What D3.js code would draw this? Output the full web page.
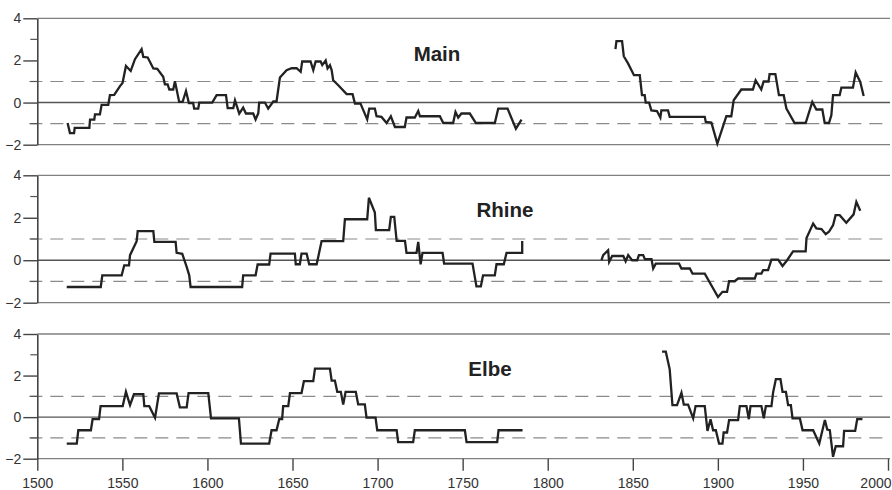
<!DOCTYPE html>
<html><head><meta charset="utf-8">
<script src="https://cdn.jsdelivr.net/npm/d3@7"></script>
<style>body{margin:0;background:#fff}svg{display:block}</style>
</head><body><svg id="c" width="892" height="490"></svg>
<script>
const rivers = ["Main", "Rhine", "Elbe"];
const xTicks = [1500, 1550, 1600, 1650, 1700, 1750, 1800, 1850, 1900, 1950, 2000];
const yTicks = [-2, 0, 2, 4];
const yMinorTicks = [-1, 1, 3];
const refLines = [-1, 1];

// null separates gaps in the record
const mainYears = [1517.8,1519.2,1521.6,1522,1530.6,1531,1533.5,1533.9,1536.8,1537.8,1541.7,1542.7,1545.2,1548.6,1550.1,1552.1,1554.9,1557.4,1561.3,1562.3,1564.9,1568.2,1570.5,1574,1575,1576.6,1577.6,1579.9,1580.9,1583.4,1585.4,1587.4,1589.1,1591.6,1592.2,1594.6,1595.2,1602.8,1605.4,1610.9,1611.9,1615.2,1616.2,1618.7,1621,1622.6,1626.9,1628.3,1629.9,1630.4,1633.8,1635.7,1638.7,1640.6,1642.6,1646.5,1649.5,1652.4,1654.8,1655.7,1660.6,1662.2,1663.6,1666.5,1667.5,1669.5,1670.6,1672,1673,1673.9,1676.9,1681.8,1685.3,1686.7,1690,1690.6,1693.9,1695.1,1698.4,1699.4,1702.3,1705.3,1707.8,1710.2,1716,1717,1721.9,1723.9,1724.9,1736.6,1738.6,1744.4,1745.8,1747.4,1749.3,1754.2,1757.8,1768.9,1770.9,1776.4,1781.3,1784.6,
  null,
  1839.8,1840.4,1843.7,1844.7,1847.2,1850.7,1854.1,1855.4,1857,1857.6,1859.6,1860.9,1864.2,1866.2,1866.8,1870.7,1871.7,1892.3,1892.9,1896.2,1899.7,1905,1907.9,1909.3,1913.8,1920.6,1922.2,1925.5,1926.9,1929.8,1930.4,1933.8,1935.9,1938.7,1940.3,1945.1,1951.6,1955.5,1957.9,1961.4,1962.8,1965.3,1966.7,1967.7,1971.6,1972.6,1979.4,1981,1983.7,1985.7];
const mainValues = [-0.97,-1.45,-1.45,-1.2,-1.2,-0.81,-0.81,-0.56,-0.56,-0.11,-0.11,0.35,0.36,0.78,0.93,1.74,1.5,2.06,2.54,2.17,2.14,1.62,1.6,1.22,0.86,0.86,0.62,0.62,1.01,0.03,0.03,0.55,-0.02,-0.02,-0.29,-0.29,0,0,0.35,0.35,-0.26,-0.26,0.1,-0.52,-0.24,-0.52,-0.52,-0.8,-0.5,0,0,-0.29,0.05,0.05,1.19,1.54,1.63,1.63,1.46,1.95,1.95,1.54,1.95,1.95,1.78,2.0,1.62,1.77,1.54,1.06,0.82,0.4,0.4,-0.05,-0.05,-0.17,-0.8,-0.29,-0.29,-0.65,-0.68,-0.97,-0.65,-1.16,-1.16,-0.71,-0.71,-0.4,-0.65,-0.65,-0.97,-0.97,-0.45,-0.71,-0.52,-0.52,-0.97,-0.97,-0.29,-0.29,-1.24,-0.81,
  null,
  2.54,2.92,2.92,2.2,1.86,1.3,1.3,0.35,0.35,0,0,-0.37,-0.4,-0.71,-0.37,-0.37,-0.68,-0.68,-0.92,-0.95,-1.95,-0.65,-0.65,0.11,0.62,0.62,1.06,0.62,1.0,1.0,1.35,1.35,0.35,0.35,-0.29,-0.97,-0.97,0.03,-0.33,-0.33,-0.97,-0.97,-0.6,0.35,0.35,0.71,0.71,1.43,0.98,0.31];

const rhineYears = [1517.3,1537.3,1538.2,1549.6,1551.1,1553.9,1554.5,1558.4,1559,1568.2,1568.8,1581.3,1581.9,1585.2,1587.8,1589.3,1590.1,1620.4,1621,1628.3,1629.5,1636.3,1637.1,1651.4,1651.9,1654.3,1655.3,1658.3,1659.8,1664.2,1667.1,1679.8,1680.8,1693.9,1694.9,1698.4,1699,1706.8,1707.8,1709.8,1711.2,1716.1,1717,1722.9,1723.9,1725.3,1726.4,1738.2,1739.1,1755.8,1758.1,1760.7,1762,1768.9,1769.9,1774.2,1775.8,1785,1785,
  null,
  1831.6,1832.6,1835.5,1836.1,1837.9,1844.4,1845.8,1847.3,1849.6,1852.6,1853.6,1856.1,1857.1,1861,1862,1863.5,1877.2,1878.6,1883.5,1885.1,1892.3,1900.1,1902.7,1905.4,1906.6,1909.9,1911.9,1921.7,1922.7,1925.6,1926.6,1929.5,1931.5,1935.4,1938,1940.7,1944.2,1951.6,1952.1,1956,1957.9,1960.9,1963.4,1965.3,1967.7,1969.2,1971.6,1975.5,1979.8,1981.4,1983.7];
const rhineValues = [-1.26,-1.26,-0.71,-0.71,-0.24,-0.24,0.24,0.9,1.37,1.37,0.86,0.86,0.35,0.3,-0.31,-0.71,-1.26,-1.26,-0.71,-0.71,-0.2,-0.2,0.31,0.31,-0.19,-0.19,0.31,0.31,-0.19,-0.19,0.9,0.9,1.93,1.93,2.94,2.25,1.42,1.42,2.04,2.04,0.91,0.91,0.35,0.35,0.86,-0.19,0.35,0.35,-0.16,-0.16,-1.23,-1.23,-0.71,-0.71,-0.19,-0.19,0.35,0.35,0.9,
  null,
  0,0.24,0.47,-0.08,0.2,0.2,-0.05,0.24,0,0,0.24,0.24,0.05,0.05,-0.39,-0.16,-0.16,-0.39,-0.39,-0.63,-0.63,-1.73,-1.49,-1.49,-0.99,-0.99,-0.86,-0.86,-0.63,-0.63,-0.47,-0.47,0.03,0.03,-0.27,0,0.42,0.42,1.05,1.73,1.5,1.47,1.23,1.34,1.65,2.12,2.12,1.76,2.16,2.75,2.33];

const elbeYears = [1517.3,1523.2,1524.1,1531.5,1532.5,1536.3,1537.2,1550.2,1552.1,1554.5,1556.8,1562.3,1562.9,1565.8,1569.2,1571.5,1581.9,1583.8,1587.8,1588.9,1600.5,1602.1,1618.5,1619.7,1636.3,1637.7,1640.6,1642.2,1643.9,1644.5,1647.5,1648.5,1655.3,1656.7,1662.2,1663.2,1672,1673,1674.9,1676.3,1678.4,1679.8,1681.2,1687.2,1688.6,1692.5,1693.5,1698.8,1699.8,1711.2,1712.1,1720.9,1721.9,1751.3,1752.3,1770.3,1771.1,1785.2,
  null,
  1867.2,1869.4,1871.7,1873.3,1876,1878.6,1880,1882.5,1885.5,1886.9,1892.3,1893.9,1895.7,1897.2,1898.8,1900.7,1902.7,1903.4,1905.4,1906.6,1911.9,1912.9,1916.8,1918.2,1919.2,1925.6,1927,1928.2,1931.5,1932.5,1934.1,1936.8,1938,1940,1941.3,1942.9,1943.9,1948.2,1949.8,1956,1959.6,1962.9,1964.3,1965.8,1967.7,1969.3,1973.6,1974.2,1980.7,1981.9,1985];
const elbeValues = [-1.27,-1.27,-0.63,-0.63,-0.1,-0.1,0.53,0.53,1.22,0.58,1.1,1.1,0.53,0.53,-0.03,1.14,1.14,0.47,0.47,1.16,1.16,-0.06,-0.06,-1.27,-1.27,-0.63,-0.63,-0.1,-0.1,0.53,0.53,1.16,1.16,1.73,1.73,2.33,2.33,1.76,1.76,1.22,1.22,0.61,1.22,1.22,0.61,0.61,-0.02,-0.02,-0.63,-0.63,-1.2,-1.2,-0.63,-0.63,-1.2,-1.2,-0.63,-0.63,
  null,
  3.15,3.15,2.3,0.58,0.58,1.17,0.6,0.6,-0.06,0.53,0.53,-0.66,-0.1,-0.63,-0.63,-1.27,-1.27,-0.74,-0.74,-0.14,-0.14,0.53,0.53,-0.1,0.53,0.53,-0.06,0.53,0.53,1.2,1.83,1.83,1.22,1.22,0.58,0.58,-0.06,-0.06,-0.63,-0.63,-1.27,-0.14,-0.6,-0.63,-1.91,-1.4,-1.4,-0.66,-0.66,-0.1,-0.1];

const seriesYears = [mainYears, rhineYears, elbeYears];
const seriesValues = [mainValues, rhineValues, elbeValues];

const svg = d3.select("#c");
const font = "'Liberation Sans', Arial, Helvetica, sans-serif";
const x = d3.scaleLinear().domain([1500, 2000]).range([37.3, 888]);
const panelTop = [18.3, 175.3, 334];
const panelBot = [144.7, 302.7, 458.7];
const titlePos = [[437, 53], [505, 209], [490, 368]];

rivers.forEach((name, i) => {
  const y = d3.scaleLinear().domain([-2, 4]).range([panelBot[i], panelTop[i]]);
  const g = svg.append("g");
  [4, -2].forEach(v => {
    g.append("line").attr("x1", x(1500)).attr("x2", 890)
      .attr("y1", y(v)).attr("y2", y(v))
      .attr("stroke", "#808080").attr("stroke-width", 1.3);
  });
  refLines.forEach(v => {
    g.append("line").attr("x1", x(1500) - 8).attr("x2", 890)
      .attr("y1", y(v)).attr("y2", y(v))
      .attr("stroke", "#8a8a8a").attr("stroke-width", 1.2)
      .attr("stroke-dasharray", "13,8");
  });
  g.append("line").attr("x1", x(1500)).attr("x2", 890)
    .attr("y1", y(0)).attr("y2", y(0))
    .attr("stroke", "#555").attr("stroke-width", 1.4);
  const ax = g.append("g").attr("transform", `translate(${x(1500)},0)`)
    .call(d3.axisLeft(y).tickValues(yTicks).tickSize(14).tickSizeOuter(0).tickPadding(2).tickFormat(d3.format("d")));
  ax.select(".domain").attr("stroke", "#444").attr("stroke-width", 1.6);
  ax.selectAll(".tick line").attr("stroke", "#444").attr("stroke-width", 1.4);
  ax.selectAll(".tick text").attr("font-family", font).attr("font-size", 14).attr("fill", "#333");
  g.selectAll(".minor").data(yMinorTicks).join("line")
    .attr("x1", x(1500) - 7).attr("x2", x(1500))
    .attr("y1", d => y(d)).attr("y2", d => y(d))
    .attr("stroke", "#555").attr("stroke-width", 1.2);
  const yrs = seriesYears[i], vals = seriesValues[i];
  const pts = yrs.map((yr, k) => ({yr, v: vals[k]}));
  g.append("path").datum(pts)
    .attr("d", d3.line().defined(d => d.yr != null && d.v != null).x(d => x(d.yr)).y(d => y(d.v)))
    .attr("fill", "none").attr("stroke", "#222").attr("stroke-width", 2.3)
    .attr("stroke-linejoin", "miter");
  g.append("text").attr("x", titlePos[i][0]).attr("y", titlePos[i][1])
    .attr("text-anchor", "middle").attr("dominant-baseline", "central")
    .attr("font-family", font).attr("font-weight", "bold").attr("font-size", 20.5)
    .attr("fill", "#222").text(name);
  if (i === 2) {
    const xa = svg.append("g").attr("transform", `translate(0,${y(-2)})`)
      .call(d3.axisBottom(x).tickValues(xTicks).tickSize(12).tickPadding(7).tickFormat(d3.format("d")));
    xa.select(".domain").remove();
    xa.selectAll(".tick line").attr("stroke", "#444").attr("stroke-width", 1.4);
    xa.selectAll(".tick text").attr("font-family", font).attr("font-size", 14).attr("fill", "#333");
    xa.selectAll(".tick").filter(d => d === 2000).select("text")
      .attr("text-anchor", "end").attr("x", 891 - x(2000));
  }
});
</script></body></html>
